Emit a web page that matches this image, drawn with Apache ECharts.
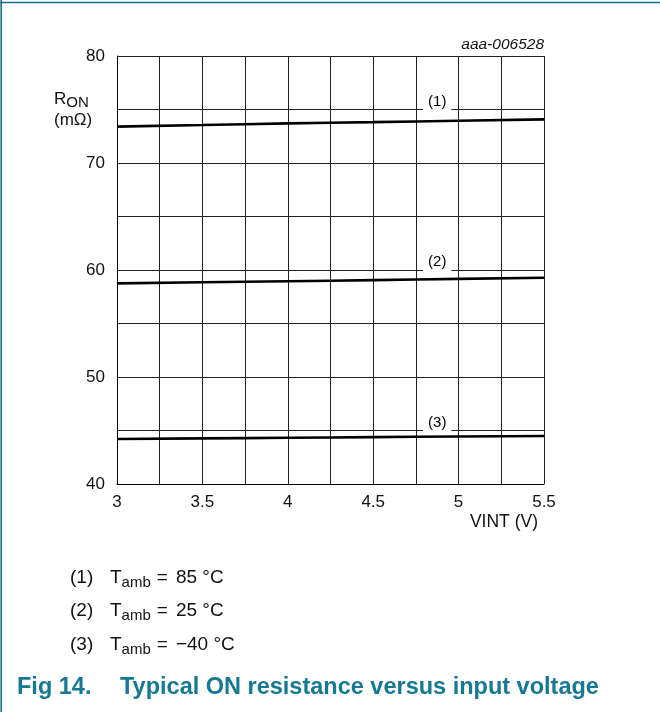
<!DOCTYPE html>
<html>
<head>
<meta charset="utf-8">
<script src="https://cdn.jsdelivr.net/npm/echarts@6/dist/echarts.min.js"></script>
<style>
html,body{margin:0;padding:0;background:#fff;}
#chart{width:660px;height:712px;}
</style>
</head>
<body>
<div id="chart"></div>
<script>
// Data
const vint = [3, 3.5, 4, 4.5, 5, 5.5];
const ron85 = [73.4, 73.55, 73.7, 73.82, 73.95, 74.08];
const ron25 = [58.75, 58.85, 58.95, 59.05, 59.17, 59.28];
const ronM40 = [44.2, 44.26, 44.32, 44.38, 44.44, 44.49];
const curveLabels = ['(1)', '(2)', '(3)'];
const labelAnchors = [[4.875, 75], [4.875, 60], [4.875, 45]];
const legendItems = [
  { id: '(1)', temp: '85 °C' },
  { id: '(2)', temp: '25 °C' },
  { id: '(3)', temp: '\u221240 °C' }
];

const FONT = '"Liberation Sans", Arial, Helvetica, sans-serif';
const chart = echarts.init(document.getElementById('chart'));

function pairs(xs, ys) { return xs.map((x, i) => [x, ys[i]]); }
function isMult(v, step) { const r = v / step; return Math.abs(r - Math.round(r)) < 1e-6; }

const lineStyle = { color: '#000', width: 2.6 };

const legendGraphics = legendItems.map((it, i) => ({
  type: 'text',
  left: 70,
  top: 568 + i * 33.5,
  style: {
    text: '{a|' + it.id + '}{t|T}{s|amb}{e|=}{t|' + it.temp + '}',
    rich: {
      a: { fontFamily: FONT, fontSize: 19, fill: '#111', width: 40 },
      t: { fontFamily: FONT, fontSize: 19, fill: '#111' },
      e: { fontFamily: FONT, fontSize: 19, fill: '#111', padding: [0, 8, 0, 6] },
      s: { fontFamily: FONT, fontSize: 15, fill: '#111', padding: [10, 0, 0, 0] }
    }
  }
}));

chart.setOption({
  animation: false,
  backgroundColor: '#fff',
  grid: { left: 117, right: 116, top: 56, bottom: 228, containLabel: false },
  xAxis: {
    type: 'value', min: 3, max: 5.5, interval: 0.25,
    axisLine: { show: true, lineStyle: { color: '#000', width: 1 } },
    axisTick: { show: false },
    splitLine: { show: true, lineStyle: { color: '#222', width: 1 } },
    axisLabel: {
      color: '#111', fontFamily: FONT, fontSize: 17, margin: 10,
      formatter: v => isMult(v, 0.5) ? String(v) : ''
    },
    name: 'VINT (V)', nameLocation: 'end', nameGap: 0,
    nameTextStyle: { color: '#111', fontFamily: FONT, fontSize: 17.5, align: 'right', verticalAlign: 'top', padding: [29, 6, 0, 0] }
  },
  yAxis: {
    type: 'value', min: 40, max: 80, interval: 5,
    axisLine: { show: true, lineStyle: { color: '#000', width: 1 } },
    axisTick: { show: false },
    splitLine: { show: true, lineStyle: { color: '#222', width: 1 } },
    axisLabel: {
      color: '#111', fontFamily: FONT, fontSize: 17, margin: 12,
      formatter: v => isMult(v, 10) ? String(v) : ''
    }
  },
  series: [
    { type: 'line', data: pairs(vint, ron85), showSymbol: false, smooth: true, lineStyle: lineStyle, z: 3 },
    { type: 'line', data: pairs(vint, ron25), showSymbol: false, smooth: true, lineStyle: lineStyle, z: 3 },
    { type: 'line', data: pairs(vint, ronM40), showSymbol: false, smooth: true, lineStyle: lineStyle, z: 3 },
    {
      type: 'scatter', symbolSize: 0, z: 4, itemStyle: { opacity: 1 },
      data: labelAnchors.map((p, i) => ({ value: p, name: curveLabels[i] })),
      label: {
        show: true, position: 'inside', offset: [0, -8],
        formatter: p => p.name,
        color: '#000', opacity: 1, fontFamily: FONT, fontSize: 15,
        backgroundColor: '#fff', padding: [2, 5, 2, 5]
      }
    }
  ],
  graphic: [
    { type: 'line', shape: { x1: 0, y1: 2.5, x2: 660, y2: 2.5 }, style: { stroke: '#1a6f8c', lineWidth: 1.6 } },
    { type: 'line', shape: { x1: 1.2, y1: 0, x2: 1.2, y2: 712 }, style: { stroke: '#1a6f8c', lineWidth: 1.6 } },
    {
      type: 'text', right: 116, top: 37,
      style: { text: 'aaa-006528', fontFamily: FONT, fontSize: 15.5, fontStyle: 'italic', fill: '#111', align: 'right' }
    },
    {
      type: 'text', left: 54, top: 88,
      style: {
        text: '{r|R}{s|ON}\n{m|(m\u03a9)}',
        rich: {
          r: { fontFamily: FONT, fontSize: 17, fill: '#111', lineHeight: 22 },
          s: { fontFamily: FONT, fontSize: 15, fill: '#111', padding: [7, 0, 0, 0], lineHeight: 22 },
          m: { fontFamily: FONT, fontSize: 17, fill: '#111', lineHeight: 20 }
        }
      }
    },
    ...legendGraphics,
    {
      type: 'text', left: 17, top: 676,
      style: { text: 'Fig 14.', fontFamily: FONT, fontSize: 23.5, fontWeight: 'bold', fill: '#177891' }
    },
    {
      type: 'text', left: 120, top: 676,
      style: { text: 'Typical ON resistance versus input voltage', fontFamily: FONT, fontSize: 23.5, fontWeight: 'bold', fill: '#177891' }
    }
  ]
});
</script>
</body>
</html>
